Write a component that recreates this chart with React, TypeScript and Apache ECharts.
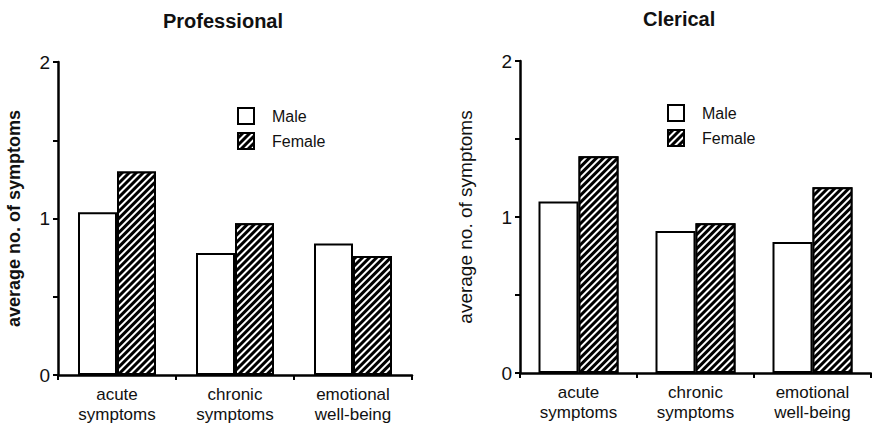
import React, { useEffect, useRef } from "react";
import * as echarts from "echarts";

const categories = ["acute\nsymptoms", "chronic\nsymptoms", "emotional\nwell-being"];
const professionalMale = [1.04, 0.78, 0.84];
const professionalFemale = [1.3, 0.97, 0.76];
const clericalMale = [1.1, 0.91, 0.84];
const clericalFemale = [1.39, 0.96, 1.19];
const panelTitles = ["Professional", "Clerical"];
const seriesNames = ["Male", "Female"];
const yAxisTitle = "average no. of symptoms";

const FONT = "'Liberation Sans', Arial, Helvetica, sans-serif";

const hatch = {
  symbol: "rect",
  symbolSize: 1,
  color: "#ffffff",
  dashArrayX: [1, 0],
  dashArrayY: [2, 3],
  rotation: -Math.PI / 4,
};

export default function App() {
  const ref = useRef<HTMLDivElement>(null);
  useEffect(() => {
    if (!ref.current) return;
    const chart = echarts.init(ref.current, undefined, { renderer: "svg" });
    const grids = [
      { left: 58, top: 62, width: 354, height: 313 },
      { left: 520, top: 61, width: 351, height: 312 },
    ];
    const mkX = (i: number) => ({
      type: "category",
      gridIndex: i,
      data: categories,
      axisLine: { lineStyle: { color: "#000", width: 2.5 } },
      axisTick: { show: true, length: 5, lineStyle: { color: "#000", width: 2 } },
      axisLabel: {
        interval: 0,
        fontSize: 17,
        lineHeight: 20,
        margin: 9,
        color: "#111",
        fontFamily: FONT,
      },
    });
    const mkY = (i: number) => ({
      type: "value",
      gridIndex: i,
      min: 0,
      max: 2,
      interval: 0.5,
      name: yAxisTitle,
      nameLocation: "middle",
      nameGap: i === 0 ? 35 : 45,
      nameTextStyle: {
        fontSize: i === 0 ? 18 : 19,
        fontWeight: i === 0 ? "bold" : "normal",
        color: "#111",
        fontFamily: FONT,
      },
      splitLine: { show: false },
      axisLine: { show: true, lineStyle: { color: "#000", width: 2.5 } },
      axisTick: { show: true, length: 5, lineStyle: { color: "#000", width: 2 } },
      axisLabel: {
        fontSize: 19,
        color: "#111",
        margin: 8,
        fontFamily: FONT,
        padding: [8, 0, 0, 0],
        formatter: (v: number) => (Number.isInteger(v) ? String(v) : ""),
      },
    });
    const mkSeries = (i: number, male: number[], female: number[], bw: number) => [
      {
        name: seriesNames[0],
        type: "bar",
        xAxisIndex: i,
        yAxisIndex: i,
        data: male,
        barWidth: bw,
        barGap: "0%",
        itemStyle: { color: "#fff", borderColor: "#000", borderWidth: 2 },
      },
      {
        name: seriesNames[1],
        type: "bar",
        xAxisIndex: i,
        yAxisIndex: i,
        data: female,
        barWidth: bw,
        barGap: "0%",
        itemStyle: { color: "#000", borderColor: "#000", borderWidth: 2, decal: hatch },
      },
    ];
    const mkLegend = (left: number, top: number) => ({
      orient: "vertical",
      left,
      top,
      padding: 0,
      itemWidth: 16,
      itemHeight: 16,
      itemGap: 7,
      icon: "rect",
      data: seriesNames,
      selectedMode: false,
      textStyle: { fontSize: 16, color: "#111", fontFamily: FONT, padding: [0, 0, 0, 13] },
    });
    chart.setOption({
      animation: false,
      backgroundColor: "#fff",
      title: [
        {
          text: panelTitles[0],
          left: 163,
          top: 11,
          padding: 0,
          textStyle: { fontSize: 20, fontWeight: "bold", color: "#111", fontFamily: FONT },
        },
        {
          text: panelTitles[1],
          left: 643,
          top: 9,
          padding: 0,
          textStyle: { fontSize: 20, fontWeight: "bold", color: "#111", fontFamily: FONT },
        },
      ],
      legend: [mkLegend(237, 107), mkLegend(667, 104)],
      grid: grids,
      xAxis: [mkX(0), mkX(1)],
      yAxis: [mkY(0), mkY(1)],
      series: [
        ...mkSeries(0, professionalMale, professionalFemale, 39),
        ...mkSeries(1, clericalMale, clericalFemale, 40),
      ],
    });
    return () => chart.dispose();
  }, []);
  return (
    <div
      ref={ref}
      style={{ position: "fixed", left: 0, top: 0, width: 872, height: 434 }}
    />
  );
}
